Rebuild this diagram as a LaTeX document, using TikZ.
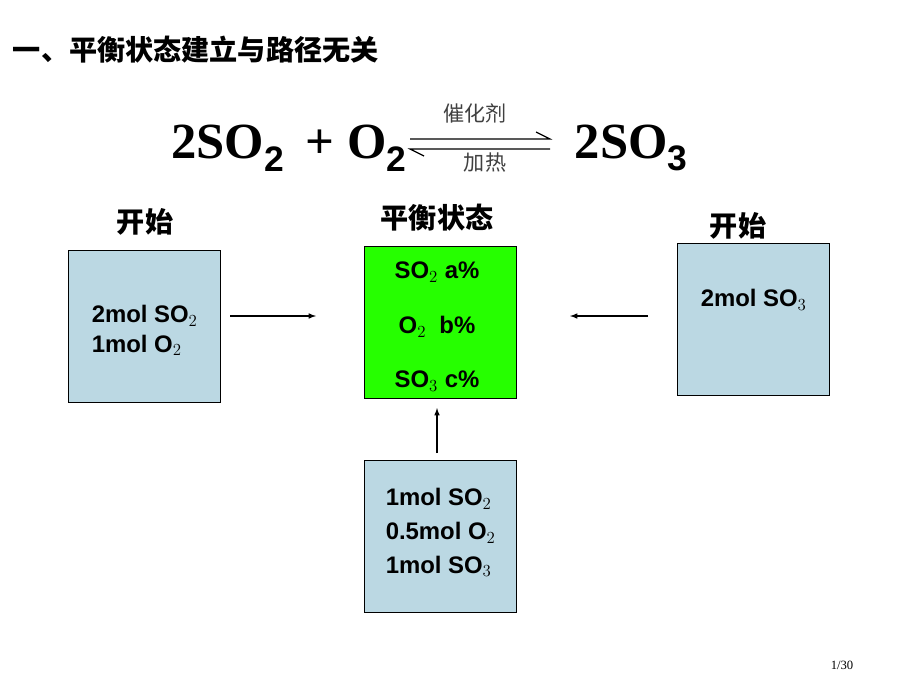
\documentclass[tikz,border=0pt]{standalone}
\usepackage{fontspec}
\setmainfont{Liberation Sans}
\newfontfamily\serifeq{Liberation Serif}
\newfontfamily\cjk{Noto Sans CJK SC}
\usetikzlibrary{positioning}
\tikzset{
  box/.style={draw, line width=1pt, minimum width=3.8cm, minimum height=3.8cm, anchor=north west},
  lbl/.style={font=\cjk\bfseries\fontsize{20}{24}\selectfont},
  chem/.style={font=\bfseries\fontsize{17}{21}\selectfont, align=left},
  conn/.style={-latex, line width=0.8pt}
}
\begin{document}
\begin{tikzpicture}[x=0.025cm, y=-0.025cm]
\useasboundingbox (0,0) rectangle (920,690);

\node[lbl, anchor=west] (title) at (8,50) {一、平衡状态建立与路径无关};

% equation
\node[font=\serifeq\bfseries\fontsize{36}{40}\selectfont, anchor=east] (lhs) at (412,148) {2SO$_\mathbf{2}$\,\ + O$_\mathbf{2}$};
\node[font=\serifeq\bfseries\fontsize{36}{40}\selectfont, anchor=west] (rhs) at (570,148) {2SO$_\mathbf{3}$};
\coordinate (eqa) at (410,139);
\coordinate (eqb) at (550,139);
\coordinate (eqc) at (410,149);
\coordinate (eqd) at (550,149);
\draw[line width=0.8pt] (eqa) -- (eqb) -- ++(-14,-7);
\draw[line width=0.8pt] (eqd) -- (eqc) -- ++(14,7);
\node[font=\cjk\fontsize{15}{18}\selectfont, gray!50!black] (cat) at (475,113) {催化剂};
\node[font=\cjk\fontsize{15}{18}\selectfont, gray!50!black] (heat) at (485,163) {加热};

% boxes
\node[box, fill=cyan!25!teal!30] (left) at (68,250) {};
\node[box, fill=green!80!lime] (mid) at (364,246) {};
\node[box, fill=cyan!25!teal!30] (right) at (677,243) {};
\node[box, fill=cyan!25!teal!30] (bot) at (364,460) {};

\node[lbl] (l1) at (145,222) {开始};
\node[lbl] (l2) at (437,218) {平衡状态};
\node[lbl] (l3) at (738,226) {开始};

\node[chem] (lt) at (left.center) [yshift=-0.1cm] {2mol SO$_2$\\1mol O$_2$};
\node[chem] (m1) at (437,272) {SO$_2$ a\%};
\node[chem] (m2) at (437,327) {O$_2$ \ b\%};
\node[chem] (m3) at (437,381) {SO$_3$ c\%};
\node[chem] (rt) at (right.center) [yshift=0.5cm] {2mol SO$_3$};
\node[chem, font=\bfseries\fontsize{17}{24}\selectfont] (bt) at (bot.center) [yshift=0.1cm] {1mol SO$_2$\\0.5mol O$_2$\\1mol SO$_3$};

\coordinate (a1) at (230,316);
\coordinate (a2) at (316,316);
\coordinate (b1) at (648,316);
\coordinate (b2) at (570,316);
\coordinate (c1) at (437,453);
\coordinate (c2) at (437,408);
\draw[conn] (a1) -- (a2);
\draw[conn] (b1) -- (b2);
\draw[conn] (c1) -- (c2);

\node[font=\serifeq\fontsize{9}{10}\selectfont] (page) at (842,665) {1/30};
\end{tikzpicture}
\end{document}
